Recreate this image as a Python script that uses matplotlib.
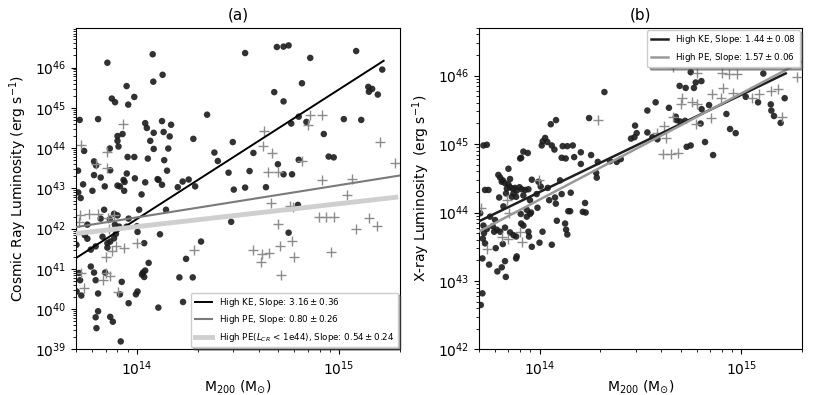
import numpy as np
import matplotlib
matplotlib.use("Agg")
import matplotlib.pyplot as plt

# ---- panel (a): cosmic ray luminosity, log10 values ----
a_ke_logm = [14.078, 13.854, 14.127, 14.081, 13.949, 13.987, 13.876, 13.892, 13.957, 13.808,
             13.717, 14.347, 14.041, 14.124, 14.169, 14.049, 14.083, 14.132, 13.929, 13.904,
             14.162, 14.279, 13.904, 14.066, 14.474, 13.866, 13.909, 14.083, 14.155, 13.739,
             14.383, 13.954, 13.987, 14.054, 14.400, 14.135, 13.788, 13.798, 13.868, 13.709,
             14.149, 13.950, 14.453, 13.788, 13.821, 13.934, 13.990, 14.102, 14.107, 13.939,
             14.041, 14.124, 14.226, 14.256, 13.734, 13.841, 13.904, 13.916, 13.937, 14.202,
             14.288, 14.479, 13.780, 13.710, 14.023, 13.722, 14.144, 13.838, 14.011, 13.887,
             13.904, 13.821, 13.866, 13.959, 13.755, 13.891, 13.912, 13.949, 14.000, 14.466,
             13.899, 14.003, 13.896, 13.742, 13.755, 13.830, 13.887, 14.114, 13.868, 14.036,
             14.317, 13.701, 13.854, 13.796, 13.772, 13.854, 14.058, 14.243, 13.772, 14.041,
             14.030, 14.025, 14.036, 13.714, 13.788, 13.843, 13.719, 13.796, 13.925, 14.210,
             14.276, 14.003, 13.995, 13.916, 13.808, 13.702, 13.725, 13.959, 14.228, 14.106,
             13.808, 13.796, 13.868, 13.881, 13.800, 13.920,
             14.535, 14.692, 14.725, 14.750, 14.857, 15.084, 15.213, 15.144, 15.163, 15.147,
             15.191, 14.816, 14.679, 14.725, 14.800, 14.763, 14.838, 15.023, 15.109, 14.924,
             14.576, 14.697, 14.800, 14.948, 14.973, 14.557, 14.725, 14.767, 14.535, 14.638,
             14.796, 14.750]
a_ke_logl = [46.33, 46.12, 45.82, 45.65, 45.54, 45.27, 45.23, 45.14, 45.08, 44.72,
             44.70, 44.83, 44.62, 44.67, 44.58, 44.50, 44.38, 44.40, 44.35, 44.30,
             44.29, 44.23, 44.18, 44.18, 44.15, 43.99, 44.04, 43.98, 43.99, 43.93,
             43.89, 43.78, 43.78, 43.74, 43.68, 43.70, 43.67, 43.57, 43.45, 43.44,
             43.44, 43.37, 43.39, 43.33, 43.27, 43.21, 43.25, 43.23, 43.21, 43.16,
             43.15, 43.09, 43.17, 43.22, 43.10, 43.05, 43.07, 43.05, 42.94, 43.03,
             43.05, 42.97, 42.94, 42.90, 42.85, 42.76, 42.47, 42.47, 42.47, 42.37,
             42.33, 42.25, 42.23, 42.25, 42.10, 42.10, 42.05, 42.05, 42.06, 42.17,
             41.97, 41.92, 41.87, 41.84, 41.75, 41.80, 41.76, 41.86, 41.68, 41.64,
             41.68, 41.60, 41.64, 41.56, 41.48, 41.53, 41.15, 41.25, 41.06, 40.96,
             40.91, 40.86, 40.80, 40.90, 40.91, 40.91, 40.72, 40.72, 40.68, 40.79,
             40.79, 40.44, 40.37, 40.37, 40.39, 40.44, 40.34, 40.15, 40.18, 40.04,
             39.95, 39.80, 39.81, 39.69, 39.53, 39.20,
             46.36, 46.51, 46.52, 46.55, 46.24, 46.41, 45.95, 45.52, 45.47, 45.40,
             45.33, 45.61, 45.39, 45.16, 44.78, 44.61, 44.65, 44.72, 44.70, 44.35,
             43.88, 43.60, 43.71, 43.79, 43.77, 43.43, 43.35, 43.35, 43.02, 43.03,
             42.59, 41.90]

a_pe_logm = [13.929, 13.725, 13.851, 13.796, 13.854, 13.719, 13.763, 13.808, 13.858, 13.887,
             13.863, 13.998, 13.896, 13.934, 13.879, 13.849, 14.284, 13.722, 13.846, 13.866,
             13.833, 13.739, 13.907, 13.714,
             14.857, 14.915, 14.846, 14.626, 14.621, 14.667, 15.201, 15.276, 14.816, 14.648,
             14.697, 14.915, 15.064, 15.039, 14.664, 14.758, 14.772, 14.899, 14.935, 14.973,
             15.147, 15.185, 15.084, 14.697, 14.767, 14.705, 14.576, 14.618, 14.654, 14.614,
             14.775, 14.960, 14.714]
a_pe_logl = [44.59, 44.07, 43.91, 43.60, 43.51, 42.35, 42.37, 42.37, 42.26, 42.33,
             42.00, 41.65, 41.57, 41.51, 41.44, 41.29, 41.46, 40.90, 40.90, 40.82,
             40.72, 40.53, 40.42, 42.17,
             44.82, 44.82, 44.58, 44.42, 44.06, 43.89, 44.16, 43.63, 43.67, 43.41,
             43.41, 43.22, 43.23, 42.84, 42.64, 42.57, 42.53, 42.28, 42.28, 42.28,
             42.26, 42.06, 42.00, 42.12, 41.69, 41.58, 41.46, 41.36, 41.39, 41.18,
             41.29, 41.43, 40.84]

# ---- panel (b): X-ray luminosity ----
b_ke_logm = [14.321, 14.245, 14.081, 14.055, 14.473, 14.453, 14.470, 14.481, 14.027, 14.015,
             14.038, 14.060, 14.010, 14.073, 14.114, 14.137, 14.164, 13.721, 13.738, 13.919,
             13.941, 13.908, 13.903, 14.109, 14.129, 14.171, 14.204, 14.255, 14.204, 14.288,
             14.349, 14.382, 14.402, 14.280, 14.283, 13.845, 13.795, 13.804, 13.817, 13.828,
             13.845, 13.853, 13.866, 13.878, 13.886, 13.900, 13.911, 13.928, 13.944, 13.870,
             13.883, 13.862, 13.833, 13.961, 13.994, 14.005, 14.040, 14.101, 13.729, 13.746,
             13.799, 13.952, 13.985, 14.047, 14.076, 14.080, 14.109, 14.154, 13.820, 13.989,
             13.936, 14.142, 14.151, 14.214, 14.228, 14.225, 13.754, 13.705, 13.779, 13.906,
             13.952, 13.936, 13.957, 13.908, 13.919, 13.721, 13.738, 13.767, 13.787, 13.804,
             13.774, 13.828, 13.853, 13.870, 13.883, 13.724, 13.718, 13.729, 13.817, 13.944,
             13.947, 13.961, 13.999, 14.014, 14.060, 14.085, 14.126, 14.131, 14.137, 13.782,
             13.886, 13.883, 13.828, 13.749, 13.812, 13.790, 13.832, 13.716, 13.716, 13.708,
             13.812, 13.837, 13.919, 13.853,
             14.749, 15.109, 14.774, 14.802, 14.694, 14.724, 14.765, 14.575, 14.534, 14.641,
             14.840, 14.803, 14.675, 14.679, 14.696, 14.721, 14.798, 14.926, 15.022, 15.083,
             15.146, 15.149, 15.162, 15.195, 15.215, 14.944, 14.972, 14.534, 14.559, 14.584,
             14.820, 14.729, 14.749, 14.860]
b_ke_logl = [45.76, 45.38, 45.35, 45.29, 45.27, 45.08, 45.10, 45.16, 45.09, 45.04,
             45.03, 44.98, 44.98, 44.92, 44.97, 44.97, 44.98, 44.98, 44.99, 44.89,
             44.87, 44.80, 44.79, 44.80, 44.79, 44.81, 44.88, 44.84, 44.71, 44.74,
             44.75, 44.74, 44.78, 44.58, 44.51, 44.64, 44.55, 44.51, 44.47, 44.43,
             44.41, 44.37, 44.35, 44.36, 44.32, 44.37, 44.34, 44.33, 44.34, 44.28,
             44.23, 44.23, 44.28, 44.48, 44.45, 44.38, 44.36, 44.47, 44.33, 44.33,
             44.22, 44.18, 44.27, 44.18, 44.22, 44.13, 44.27, 44.29, 44.09, 44.07,
             44.04, 44.02, 44.02, 44.01, 44.00, 44.14, 43.94, 43.99, 43.89, 43.98,
             43.98, 43.94, 44.00, 43.84, 43.81, 43.81, 43.76, 43.80, 43.75, 43.72,
             43.72, 43.78, 43.71, 43.67, 43.65, 43.70, 43.62, 43.55, 43.54, 43.72,
             43.65, 43.50, 43.56, 43.72, 43.53, 43.88, 43.84, 43.75, 43.68, 43.48,
             43.36, 43.33, 43.29, 43.24, 43.20, 43.14, 43.06, 43.33, 42.82, 42.65,
             44.45, 44.35, 44.25, 44.49,
             46.05, 46.03, 45.90, 45.92, 45.85, 45.82, 45.82, 45.61, 45.49, 45.53,
             45.57, 45.51, 45.40, 45.35, 45.33, 45.34, 45.30, 45.44, 45.69, 45.61,
             45.58, 45.49, 45.41, 45.31, 45.67, 45.22, 45.16, 45.17, 45.10, 45.07,
             45.03, 44.96, 44.98, 44.84]

b_pe_logm = [14.291, 13.998, 13.708, 13.850, 13.836, 13.903, 13.845, 13.911, 13.738, 13.812,
             14.661, 14.779, 14.906, 14.939, 14.977, 15.274, 14.911, 14.856, 14.898, 14.960,
             14.708, 14.757, 14.699, 14.782, 15.088, 15.055, 15.146, 15.184, 15.200, 14.661,
             14.617, 14.774, 14.848, 14.580, 14.625, 14.613, 14.650, 14.686]
b_pe_logl = [45.35, 44.48, 44.06, 43.99, 44.19, 43.72, 43.61, 43.57, 43.47, 43.65,
             46.13, 46.04, 46.04, 46.02, 46.02, 45.98, 45.82, 45.73, 45.67, 45.75,
             45.67, 45.61, 45.58, 45.58, 45.73, 45.68, 45.77, 45.81, 45.40, 45.39,
             45.26, 45.30, 45.38, 45.16, 45.09, 44.85, 44.85, 44.87]

# fit lines: (log slope, log L at log M = 14, log M range)
a_fit_ke = (3.22, 42.24, (13.69, 15.22))
a_fit_pe = (0.80, 42.28, (13.69, 15.31))
a_fit_pe_low = (0.57, 42.05, (13.69, 15.28))
b_fit_ke = (1.42, 44.30, (13.69, 15.22))
b_fit_pe = (1.55, 44.19, (13.69, 15.31))

a_labels = [r'High KE, Slope: $3.16 \pm 0.36$',
            r'High PE, Slope: $0.80 \pm 0.26$',
            r'High PE($L_{CR}$ < 1e44), Slope: $0.54 \pm 0.24$']
b_labels = [r'High KE, Slope: $1.44 \pm 0.08$',
            r'High PE, Slope: $1.57 \pm 0.06$']


def fit_line(ax, fit, **kw):
    slope, icpt, (lo, hi) = fit
    lm = np.linspace(lo, hi, 50)
    ax.plot(10**lm, 10**(icpt + slope * (lm - 14)), **kw)


def scatter_panel(ax, ke_m, ke_l, pe_m, pe_l):
    ax.scatter(10**np.array(ke_m), 10**np.array(ke_l), s=22, color='#1c1c1c',
               alpha=0.9, edgecolors='none', zorder=2)
    ax.scatter(10**np.array(pe_m), 10**np.array(pe_l), s=45, marker='+',
               color='#8c8c8c', linewidths=1.0, zorder=2)
    ax.set_xscale('log')
    ax.set_yscale('log')
    ax.set_xlim(5e13, 2e15)
    ax.set_xlabel(r'M$_{200}$ (M$_{\odot}$)', fontsize=10, labelpad=0)


fig = plt.figure(figsize=(8.3, 3.95), dpi=100)
ax1 = fig.add_axes([0.0916, 0.1152, 0.3904, 0.8147])
ax2 = fig.add_axes([0.5771, 0.1152, 0.3892, 0.8147])

scatter_panel(ax1, a_ke_logm, a_ke_logl, a_pe_logm, a_pe_logl)
fit_line(ax1, a_fit_ke, color='black', lw=1.4, label=a_labels[0], zorder=3)
fit_line(ax1, a_fit_pe, color='#7a7a7a', lw=1.5, label=a_labels[1], zorder=3)
fit_line(ax1, a_fit_pe_low, color='#cfcfcf', lw=3.5, label=a_labels[2], zorder=3)
ax1.set_ylim(1e39, 10**46.99)
ax1.set_ylabel(r'Cosmic Ray Luminosity (erg s$^{-1}$)', fontsize=10)
ax1.set_title('(a)', fontsize=11)
ax1.legend(loc='lower right', fontsize=6.3, shadow=True, framealpha=1,
           borderaxespad=0.25)

scatter_panel(ax2, b_ke_logm, b_ke_logl, b_pe_logm, b_pe_logl)
fit_line(ax2, b_fit_ke, color='#1e1e1e', lw=1.8, label=b_labels[0], zorder=3)
fit_line(ax2, b_fit_pe, color='#999999', lw=1.8, label=b_labels[1], zorder=3)
ax2.set_ylim(1e42, 10**46.7)
ax2.set_ylabel(r'X-ray Luminosity  (erg s$^{-1}$)', fontsize=10)
ax2.set_title('(b)', fontsize=11)
ax2.legend(loc='upper right', fontsize=6.3, shadow=True, framealpha=1,
           borderaxespad=0.25)

fig.savefig('out.png', dpi=100)
